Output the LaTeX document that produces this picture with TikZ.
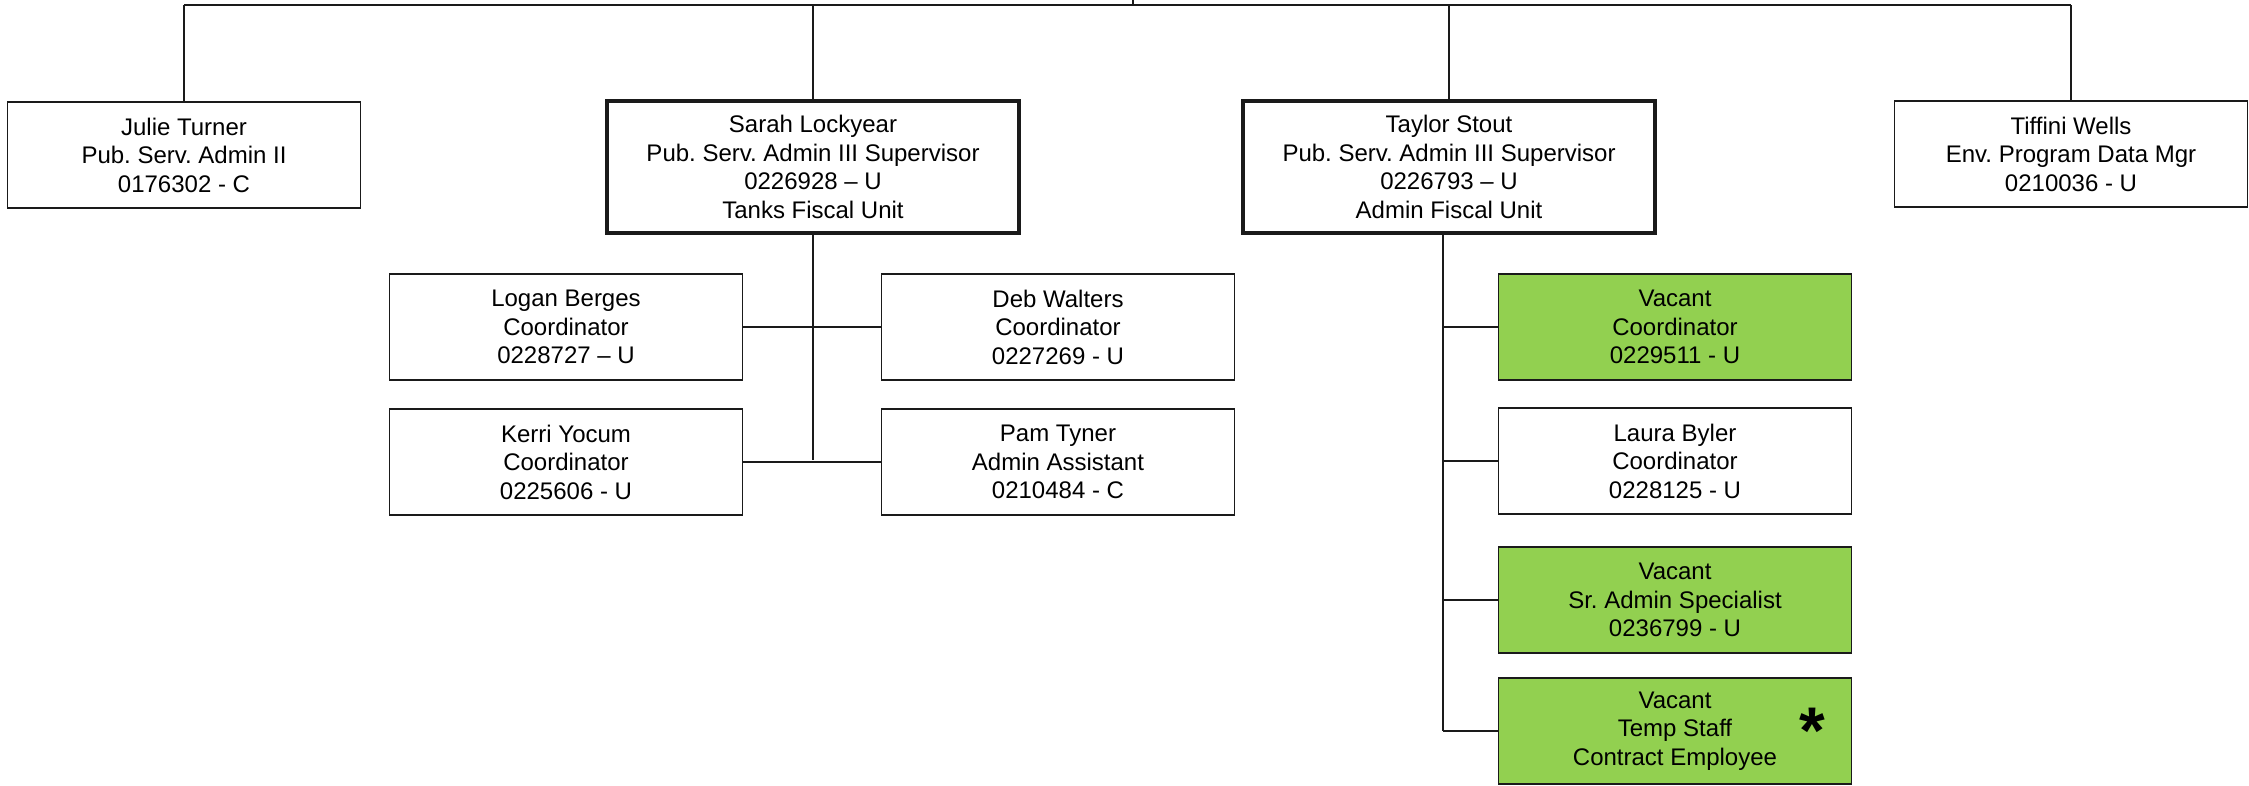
\documentclass[tikz,border=0pt]{standalone}
\usepackage{fontspec}
\setmainfont{Liberation Sans}
\frenchspacing
\definecolor{vacant}{HTML}{92D050}
\definecolor{linec}{HTML}{1A1A1A}
\begin{document}
\begin{tikzpicture}[x=1pt,y=-1pt,
  box/.style={draw=linec, line width=1.2pt, rectangle, align=center, inner sep=0pt,
    minimum width=353pt, minimum height=106pt, font=\frenchspacing\fontsize{24}{28.5}\selectfont},
  boss/.style={box, line width=4.5pt, minimum width=412pt, minimum height=132pt},
  vac/.style={box, fill=vacant},
  link/.style={draw=linec, line width=1.2pt}]
\clip (0,0) rectangle (2249,785);
% top level
\coordinate (top) at (1133,0);
\coordinate (bus) at (1133,5);
\node[box]  (julie)   at (184,155)  {Julie Turner\\Pub. Serv. Admin II\\0176302 - C};
\node[boss] (sarah)   at (813,167)  {Sarah Lockyear\\Pub. Serv. Admin III Supervisor\\0226928 -- U\\Tanks Fiscal Unit};
\node[boss] (taylor)  at (1449,167) {Taylor Stout\\Pub. Serv. Admin III Supervisor\\0226793 -- U\\Admin Fiscal Unit};
\node[box]  (tiffini) at (2071,154) {Tiffini Wells\\Env. Program Data Mgr\\0210036 - U};
% Sarah's unit
\node[box] (logan) at (566,327)  {Logan Berges\\Coordinator\\0228727 -- U};
\node[box] (deb)   at (1058,327) {Deb Walters\\Coordinator\\0227269 - U};
\node[box] (kerri) at (566,462)  {Kerri Yocum\\Coordinator\\0225606 - U};
\node[box] (pam)   at (1058,462) {Pam Tyner\\Admin Assistant\\0210484 - C};
% Taylor's unit
\node[vac] (v1)    at (1675,327) {Vacant\\Coordinator\\0229511 - U};
\node[box] (laura) at (1675,461) {Laura Byler\\Coordinator\\0228125 - U};
\node[vac] (v2)    at (1675,600) {Vacant\\Sr. Admin Specialist\\0236799 - U};
\node[vac] (v3)    at (1675,731) {Vacant\\Temp Staff\\Contract Employee};
\node[font=\fontsize{66}{66}\bfseries\selectfont, inner sep=0pt] (star) at (1812,731) {*};
% connectors top
\draw[link] (top) -- (bus);
\draw[link] (julie.north |- bus) -- (tiffini.north |- bus);
\draw[link] (julie.north |- bus) -- (julie.north);
\draw[link] (sarah.north |- bus) -- (sarah.north);
\draw[link] (taylor.north |- bus) -- (taylor.north);
\draw[link] (tiffini.north |- bus) -- (tiffini.north);
% Sarah
\coordinate (sspine) at (813,460);
\draw[link] (sarah.south) -- (sspine);
\draw[link] (logan.east) -- (deb.west);
\draw[link] (kerri.east) -- (pam.west);
% Taylor
\coordinate (tspine) at (1443,731);
\draw[link] (taylor.south -| tspine) -- (tspine);
\draw[link] (tspine |- v1.west) -- (v1.west);
\draw[link] (tspine |- laura.west) -- (laura.west);
\draw[link] (tspine |- v2.west) -- (v2.west);
\draw[link] (tspine) -- (v3.west);
\end{tikzpicture}
\end{document}
